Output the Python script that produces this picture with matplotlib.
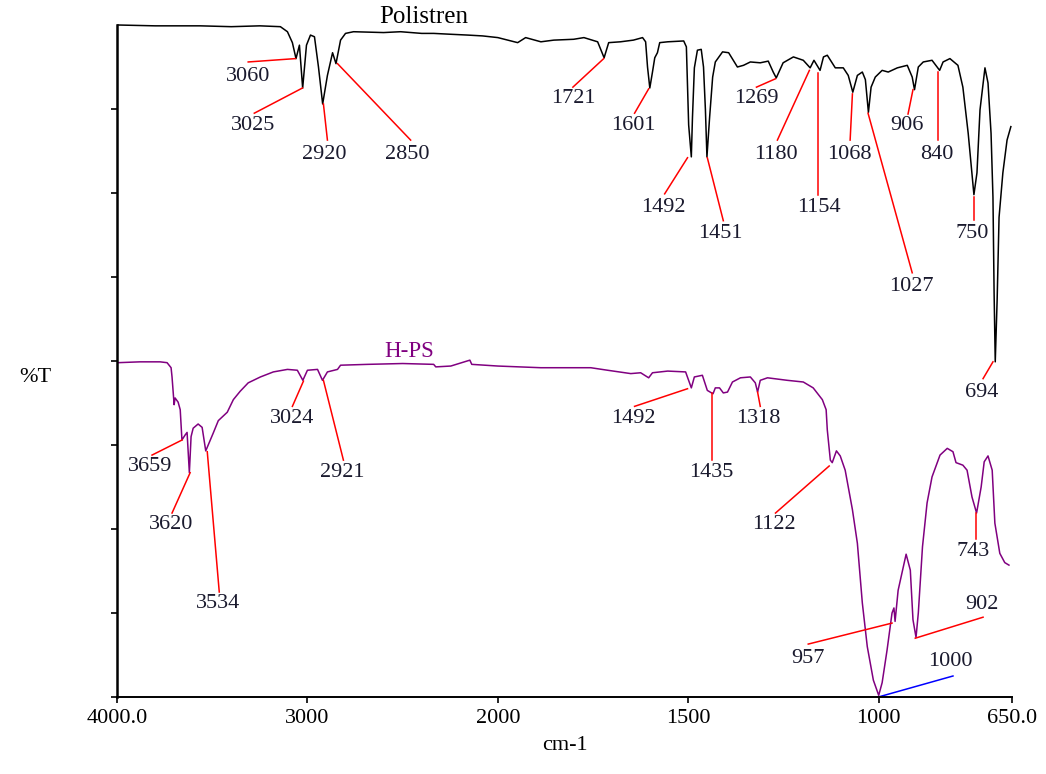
import numpy as np
import matplotlib
matplotlib.use('Agg')
import matplotlib.pyplot as plt

plt.rcParams['font.family'] = ['Liberation Serif', 'DejaVu Serif']

# Polistren spectrum (wavenumber cm-1, %T in arbitrary offset units)
ps_wn = [3995, 3800, 3563, 3400, 3250, 3142, 3105, 3079, 3060, 3042,
         3025, 3005, 2984, 2963, 2942, 2920, 2895, 2868, 2850, 2826,
         2800, 2758, 2600, 2511, 2400, 2337, 2250, 2158, 2080, 2000,
         1948, 1927, 1887, 1853, 1801, 1774, 1738, 1721, 1709, 1678,
         1644, 1620, 1612, 1607, 1601, 1594, 1588, 1581, 1575, 1554,
         1512, 1505, 1499, 1492, 1489, 1484, 1476, 1466, 1460, 1455,
         1451, 1444, 1436, 1429, 1410, 1394, 1371, 1355, 1337, 1311,
         1290, 1277, 1269, 1251, 1224, 1198, 1180, 1170, 1154, 1145,
         1135, 1114, 1093, 1080, 1068, 1056, 1043, 1035, 1027, 1020,
         1009, 991, 975, 951, 925, 912, 906, 896, 883, 860,
         840, 831, 813, 792, 779, 765, 750, 742, 734, 721,
         713, 705, 700, 697, 694, 689, 684, 674, 663, 653]
ps_t = [80.0, 79.9, 79.9, 79.8, 79.9, 79.8, 79.2, 77.9, 76.0, 77.6,
        72.5, 77.6, 78.8, 78.6, 75.0, 70.6, 74.0, 76.7, 75.4, 78.2,
        79.0, 79.2, 79.1, 79.2, 79.0, 79.0, 78.9, 78.8, 78.7, 78.5,
        77.9, 78.5, 78.0, 78.2, 78.3, 78.5, 78.0, 76.1, 77.9, 78.0,
        78.2, 78.5, 78.0, 75.0, 72.5, 74.4, 76.1, 76.7, 77.9, 78.0,
        78.1, 77.4, 68.1, 64.3, 69.0, 74.9, 77.0, 77.1, 75.0, 69.9,
        64.3, 69.0, 73.8, 75.6, 76.8, 76.7, 75.0, 75.2, 75.6, 75.5,
        75.7, 74.4, 73.7, 75.5, 76.2, 75.8, 74.9, 75.8, 74.6, 76.2,
        76.4, 74.9, 74.9, 74.0, 72.0, 74.0, 74.4, 73.5, 69.6, 72.6,
        73.8, 74.6, 74.4, 74.9, 75.2, 73.8, 72.3, 75.0, 75.6, 75.8,
        74.6, 75.6, 76.0, 75.2, 72.6, 67.1, 59.8, 62.4, 69.9, 74.9,
        73.1, 67.1, 59.5, 48.1, 39.9, 47.3, 57.1, 62.4, 66.3, 67.9]

# H-PS spectrum
hps_wn = [3995, 3879, 3774, 3737, 3716, 3711, 3705, 3700, 3695, 3679,
          3668, 3659, 3642, 3632, 3620, 3611, 3600, 3574, 3553, 3534,
          3495, 3468, 3421, 3389, 3353, 3311, 3247, 3179, 3105, 3053,
          3024, 3000, 2947, 2921, 2895, 2842, 2826, 2684, 2500, 2337,
          2326, 2247, 2147, 2137, 2000, 1887, 1756, 1712, 1651, 1625,
          1604, 1594, 1554, 1507, 1492, 1484, 1463, 1450, 1435, 1429,
          1418, 1408, 1397, 1384, 1363, 1337, 1324, 1318, 1311, 1292,
          1240, 1198, 1172, 1148, 1138, 1135, 1127, 1122, 1111, 1101,
          1088, 1069, 1056, 1043, 1030, 1014, 1000, 991, 978, 965,
          960, 957, 949, 928, 917, 910, 902, 896, 885, 873,
          860, 839, 820, 805, 797, 779, 768, 755, 743, 731,
          723, 713, 702, 695, 682, 669, 658]
hps_t = [39.8, 39.9, 39.9, 39.8, 39.2, 38.1, 36.3, 34.8, 35.6, 35.1,
         34.2, 30.6, 31.2, 31.5, 26.7, 31.0, 32.0, 32.5, 32.1, 29.3,
         31.4, 32.9, 33.9, 35.4, 36.4, 37.4, 38.1, 38.7, 39.0, 38.9,
         37.7, 38.9, 39.0, 37.7, 38.7, 39.0, 39.5, 39.6, 39.7, 39.6,
         39.3, 39.4, 40.1, 39.6, 39.4, 39.2, 39.2, 38.9, 38.5, 38.6,
         38.0, 38.6, 38.8, 38.7, 36.8, 38.1, 38.3, 36.5, 36.1, 36.8,
         36.8, 36.2, 36.3, 37.5, 38.0, 38.1, 37.4, 36.3, 37.7, 38.0,
         37.7, 37.5, 36.8, 35.4, 34.2, 31.8, 28.2, 27.9, 29.3, 28.7,
         27.0, 22.3, 18.3, 11.2, 6.0, 2.0, 0.2, 1.7, 5.6, 10.0,
         10.6, 9.0, 12.7, 17.0, 15.1, 9.2, 7.1, 10.0, 17.9, 23.1,
         26.2, 28.8, 29.6, 29.2, 27.9, 27.6, 27.0, 23.8, 21.9, 25.0,
         28.0, 28.7, 27.0, 20.7, 17.1, 16.0, 15.7]

tick_vals = [4000, 3000, 2000, 1500, 1000, 650]
tick_labels = ['4000.0', '3000', '2000', '1500', '1000', '650.0']

# peak labels: text, leader start, leader end, text position (wn, T)
ps_marks = [
    ('3060', (3311, 75.6), (3063, 76.0), (3311, 73.9)),
    ('3025', (3279, 69.5), (3026, 72.5), (3284, 68.0)),
    ('2920', (2916, 70.6), (2895, 66.3), (2911, 64.6)),
    ('2850', (2842, 75.4), (2458, 66.3), (2474, 64.6)),
    ('1721', (1803, 72.6), (1722, 76.0), (1803, 71.2)),
    ('1601', (1641, 69.5), (1604, 72.4), (1644, 68.0)),
    ('1492', (1562, 59.9), (1502, 64.2), (1565, 58.3)),
    ('1451', (1450, 64.2), (1408, 56.7), (1415, 55.2)),
    ('1269', (1321, 72.6), (1271, 73.6), (1321, 71.2)),
    ('1180', (1266, 66.3), (1182, 74.6), (1269, 64.6)),
    ('1154', (1159, 59.8), (1159, 74.3), (1156, 58.3)),
    ('1068', (1075, 66.3), (1069, 71.8), (1077, 64.6)),
    ('1027', (912, 50.5), (1028, 69.5), (915, 48.9)),
    ('906', (923, 69.4), (910, 72.3), (925, 68.0)),
    ('840', (844, 66.3), (844, 74.4), (847, 64.6)),
    ('750', (750, 56.8), (750, 59.5), (755, 55.2)),
    ('694', (726, 37.9), (700, 39.9), (729, 36.2)),
]
hps_marks = [
    ('3659', (3816, 28.8), (3658, 30.6), (3826, 27.4)),
    ('3620', (3711, 21.9), (3616, 26.7), (3716, 20.5)),
    ('3534', (3463, 12.5), (3526, 29.2), (3468, 11.1)),
    ('3024', (3079, 34.6), (3021, 37.6), (3079, 33.1)),
    ('2921', (2811, 28.2), (2916, 37.7), (2816, 26.7)),
    ('1492', (1641, 34.6), (1502, 36.7), (1644, 33.1)),
    ('1435', (1439, 28.2), (1439, 36.2), (1439, 26.7)),
    ('1318', (1311, 34.6), (1318, 36.3), (1316, 33.1)),
    ('1122', (1271, 21.9), (1130, 27.5), (1274, 20.5)),
    ('957', (1185, 6.3), (965, 8.8), (1187, 4.6)),
    ('902', (904, 7.0), (726, 9.5), (729, 11.0)),
    ('743', (744, 18.8), (744, 21.9), (752, 17.3)),
]
blue_mark = ('1000', (1001, 0.0), (805, 2.5), (813, 4.2))


# x axis changes scale at 2000 cm-1 (like the spectrometer print-out)
def fwd(x):
    x = np.asarray(x, dtype=float)
    return np.where(x > 2000, 2000 + (x - 2000) / 2.0, x)


def inv(u):
    u = np.asarray(u, dtype=float)
    return np.where(u > 2000, 2000 + (u - 2000) * 2.0, u)


def draw_mark(ax, mark, color):
    lab, p0, p1, pt = mark
    ax.plot([p0[0], p1[0]], [p0[1], p1[1]], color=color, lw=1.1, clip_on=False)
    ax.text(pt[0], pt[1], lab, ha='center', va='center', fontsize=16,
            color='#1a1a2e')


fig = plt.figure(figsize=(10.46, 7.74), dpi=100)
ax = fig.add_axes([117 / 1046, 77 / 774, 895 / 1046, 672 / 774])
ax.set_xscale('function', functions=(fwd, inv))
ax.set_xlim(4000, 650)
ax.set_ylim(0, 80)

ax.plot(ps_wn, ps_t, color='black', lw=1.1, clip_on=False)
ax.plot(hps_wn, hps_t, color='#800080', lw=1.1, clip_on=False)

for m in ps_marks:
    draw_mark(ax, m, 'red')
for m in hps_marks:
    draw_mark(ax, m, 'red')
draw_mark(ax, blue_mark, 'blue')

ax.text(2389, 81.0, 'Polistren', ha='center', va='center', fontsize=18,
        color='black')
ax.text(2468, 41.1, 'H-PS', ha='center', va='center', fontsize=16.5,
        color='#800080')

ax.spines['top'].set_visible(False)
ax.spines['right'].set_visible(False)
ax.spines['left'].set_linewidth(1.8)
ax.spines['bottom'].set_linewidth(1.4)

ax.set_xticks(tick_vals)
ax.set_xticklabels(tick_labels)
ax.set_yticks(np.arange(0, 80, 10))
ax.set_yticklabels([])
ax.tick_params(direction='out', length=4.5, width=1.2, labelsize=16, pad=4)

fig.text(35 / 1046, 1 - 377 / 774, '%T', ha='center', va='center', fontsize=16)
fig.text(565 / 1046, 1 - 745 / 774, 'cm-1', ha='center', va='center', fontsize=16)

fig.savefig('out.png', dpi=100)
